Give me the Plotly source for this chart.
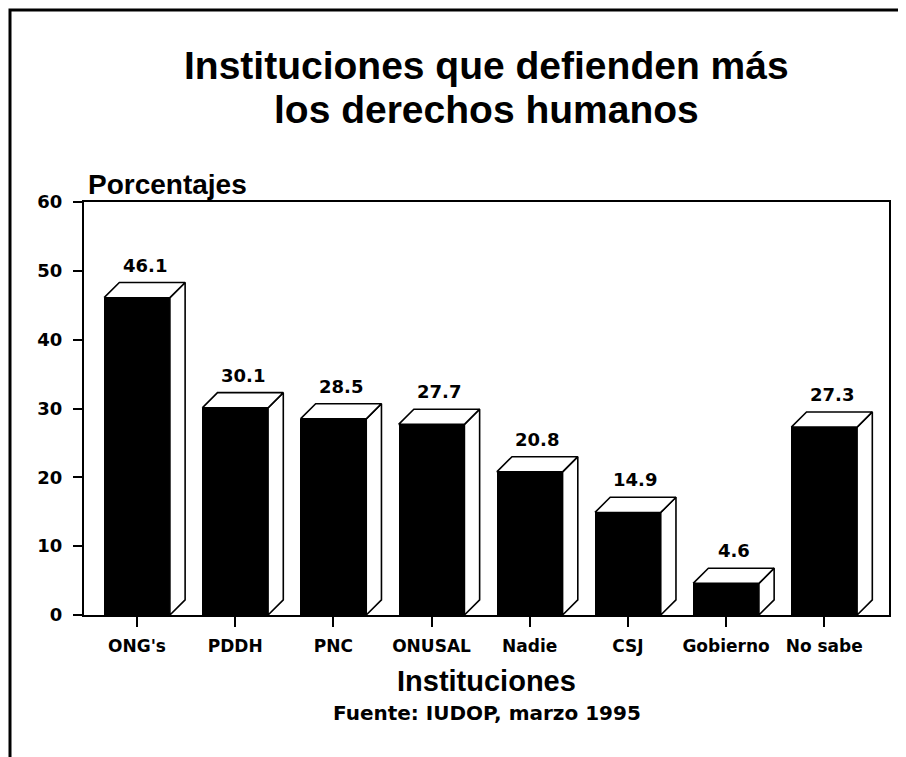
import plotly.graph_objects as go

categories = ["ONG's", "PDDH", "PNC", "ONUSAL", "Nadie", "CSJ", "Gobierno", "No sabe"]
values = [46.1, 30.1, 28.5, 27.7, 20.8, 14.9, 4.6, 27.3]
y_ticks = [0, 10, 20, 30, 40, 50, 60]

BW = 0.67   # front face width (category units)
DX = 0.155  # depth offset x (category units)
DY = 2.2    # depth offset y (data units)

xs = list(range(len(categories)))

fig = go.Figure()
fig.add_trace(go.Bar(x=xs, y=values, width=BW, marker=dict(color="black", line=dict(width=0)),
                     showlegend=False, hoverinfo="skip"))

for c, v in zip(xs, values):
    l, r = c - BW / 2, c + BW / 2
    fig.add_trace(go.Scatter(x=[r, r + DX, r + DX, r, r], y=[0, DY, v + DY, v, 0],
                             mode="lines", fill="toself", fillcolor="white",
                             line=dict(color="black", width=1.6), showlegend=False, hoverinfo="skip"))
    fig.add_trace(go.Scatter(x=[l, l + DX, r + DX, r, l], y=[v, v + DY, v + DY, v, v],
                             mode="lines", fill="toself", fillcolor="white",
                             line=dict(color="black", width=1.6), showlegend=False, hoverinfo="skip"))

OFF = 8  # page body margin
W, H = 906 - OFF, 757 - OFF
# plot area in screenshot pixels: x 84..889, y 202..615
L, T = 84 - OFF, 202 - OFF
R = W - (889 - OFF)
B = H - (615 - OFF)
pw, ph = W - L - R, H - T - B

def px(xs_):
    return (xs_ - OFF - L) / pw

def py(ys_):
    return (H - B - (ys_ - OFF)) / ph

annotations = []
for c, v in zip(xs, values):
    annotations.append(dict(x=c + DX / 2, y=v + DY, xref="x", yref="y", text=f"{v:.1f}",
                            showarrow=False, yanchor="bottom", yshift=5,
                            font=dict(family="DejaVu Sans", size=18, color="black", weight="bold")))

annotations += [
    dict(x=0.5, y=py(65), xref="paper", yref="paper", text="Instituciones que defienden más",
         showarrow=False, xanchor="center", yanchor="middle",
         font=dict(family="Liberation Sans", size=39, color="black", weight="bold")),
    dict(x=0.5, y=py(110), xref="paper", yref="paper", text="los derechos humanos",
         showarrow=False, xanchor="center", yanchor="middle",
         font=dict(family="Liberation Sans", size=39, color="black", weight="bold")),
    dict(x=px(86), y=py(184), xref="paper", yref="paper", text="Porcentajes",
         showarrow=False, xanchor="left", yanchor="middle",
         font=dict(family="Liberation Sans", size=28, color="black", weight="bold")),
    dict(x=0.5, y=py(681), xref="paper", yref="paper", text="Instituciones",
         showarrow=False, xanchor="center", yanchor="middle",
         font=dict(family="Liberation Sans", size=29, color="black", weight="bold")),
    dict(x=0.5, y=py(713), xref="paper", yref="paper", text="Fuente: IUDOP, marzo 1995",
         showarrow=False, xanchor="center", yanchor="middle",
         font=dict(family="DejaVu Sans", size=20, color="black", weight="bold")),
]

shapes = [
    dict(type="path", xref="paper", yref="paper",
         path=f"M {px(10)} {py(757)} L {px(10)} {py(10)} L {px(906)} {py(10)}",
         line=dict(color="black", width=3)),
]

fig.update_layout(
    width=W, height=H,
    margin=dict(l=L, r=R, t=T, b=B),
    paper_bgcolor="white", plot_bgcolor="white",
    bargap=0,
    annotations=annotations,
    shapes=shapes,
    xaxis=dict(range=[-0.54, 7.66], tickvals=xs, ticktext=categories,
               showline=True, mirror=True, linecolor="black", linewidth=2,
               ticks="outside", ticklen=10, tickwidth=2, tickcolor="black",
               showgrid=False, zeroline=False, ticklabelstandoff=5,
               tickfont=dict(family="DejaVu Sans", size=17, color="black", weight="bold")),
    yaxis=dict(range=[0, 60], tickvals=y_ticks,
               showline=True, mirror=True, linecolor="black", linewidth=2,
               ticks="outside", ticklen=9, tickwidth=2, tickcolor="black",
               showgrid=False, zeroline=False, ticklabelstandoff=7,
               tickfont=dict(family="DejaVu Sans", size=18, color="black", weight="bold")),
)

fig.write_html("out.html")
